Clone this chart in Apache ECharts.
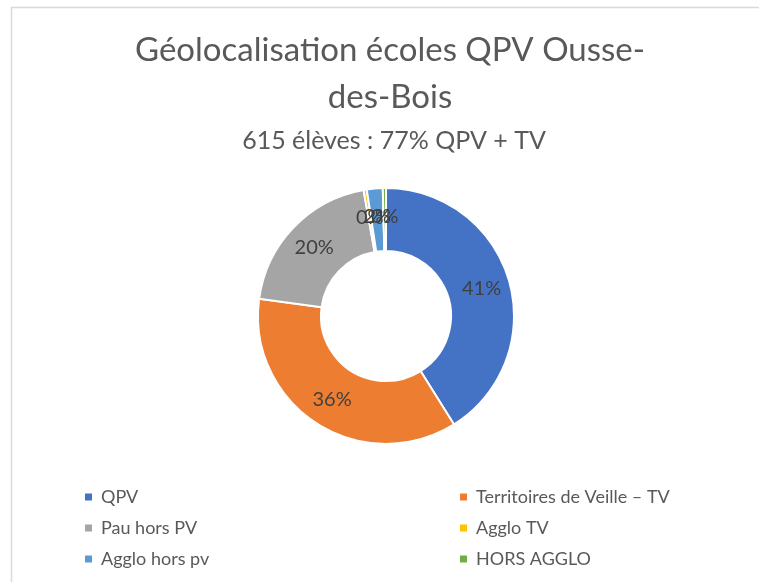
<!DOCTYPE html>
<html>
<head>
<meta charset="utf-8">
<script src="https://cdn.jsdelivr.net/npm/echarts@6/dist/echarts.min.js"></script>
<style>
  html, body { margin: 0; padding: 0; background: #fff; }
  #chart { width: 759px; height: 582px; }
</style>
</head>
<body>
<div id="chart"></div>
<script>
// categories and shares (%) (the "0%" ones are tiny, not empty)
var categories = ['QPV', 'Territoires de Veille – TV', 'Pau hors PV', 'Agglo TV', 'Agglo hors pv', 'HORS AGGLO'];
var parts = [41, 36, 20, 0.4, 2, 0.4];
var colors = ['#4472C4', '#ED7D31', '#A5A5A5', '#FFC000', '#5B9BD5', '#70AD47'];
var legendLeft = ['QPV', 'Pau hors PV', 'Agglo hors pv'];
var legendRight = ['Territoires de Veille – TV', 'Agglo TV', 'HORS AGGLO'];

var font = 'Lato, "Open Sans", sans-serif';

var pieData = categories.map(function (name, i) {
    return { name: name, value: parts[i] };
});

function legendCfg(data, left) {
    return {
        data: data,
        orient: 'vertical',
        left: left,
        top: 483,
        itemWidth: 9,
        itemHeight: 9,
        itemGap: 13,
        icon: 'rect',
        textStyle: { color: '#595959', fontSize: 18, fontFamily: font, padding: [0, 0, 0, 3] }
    };
}

var option = {
    color: colors,
    animation: false,
    title: [{
        text: 'Géolocalisation écoles QPV Ousse-\ndes-Bois',
        left: 385,
        textAlign: 'center',
        top: 22,
        textStyle: { color: '#595959', fontSize: 33, fontWeight: 'normal', fontFamily: font, lineHeight: 47 }
    }, {
        text: '615 élèves : 77% QPV + TV',
        left: 389,
        textAlign: 'center',
        top: 123,
        textStyle: { color: '#595959', fontSize: 25, fontWeight: 'normal', fontFamily: font }
    }],
    legend: [legendCfg(legendLeft, 78), legendCfg(legendRight, 453)],
    graphic: [
        { type: 'line', shape: { x1: 11, y1: 7.5, x2: 759, y2: 7.5 }, style: { stroke: '#d9d9d9', lineWidth: 1.5 } },
        { type: 'line', shape: { x1: 11.5, y1: 7, x2: 11.5, y2: 582 }, style: { stroke: '#d9d9d9', lineWidth: 1.5 } }
    ],
    series: [{
        type: 'pie',
        center: [386, 316],
        radius: [65, 128],
        startAngle: 90,
        clockwise: true,
        avoidLabelOverlap: false,
        minShowLabelAngle: 0,
        itemStyle: { borderColor: '#fff', borderWidth: 2 },
        label: {
            show: true,
            position: 'inside',
            color: '#404040',
            fontSize: 20,
            fontFamily: font,
            formatter: function (p) { return Math.round(p.percent) + '%'; }
        },
        labelLine: { show: false },
        labelLayout: { hideOverlap: false },
        data: pieData
    }]
};

var myChart = echarts.init(document.getElementById('chart'));
myChart.setOption(option);
</script>
</body>
</html>
